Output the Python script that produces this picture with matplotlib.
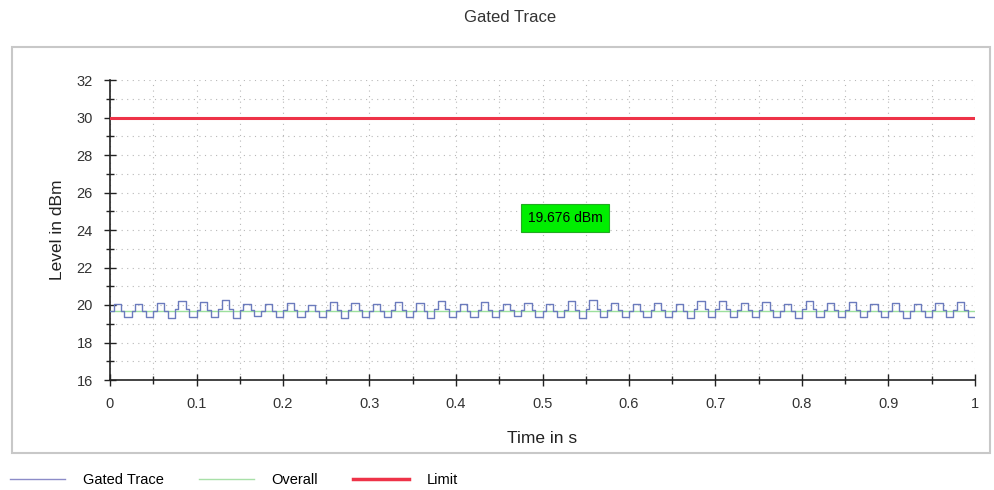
import numpy as np
import matplotlib
matplotlib.use('Agg')
from matplotlib import pyplot as plt
from matplotlib.patches import Rectangle
from matplotlib.lines import Line2D
from matplotlib.ticker import MultipleLocator

plt.rcParams['font.family'] = ['Liberation Sans', 'DejaVu Sans']

# per-cycle levels of the gated trace (dBm)
cycle_high = [20.05, 20.05, 20.1, 20.2, 20.15, 20.25, 20.05, 20.05, 20.1, 20.0,
              20.15, 20.1, 20.05, 20.15, 20.1, 20.2, 20.05, 20.15, 20.05, 20.1,
              20.05, 20.2, 20.25, 20.1, 20.05, 20.1, 20.05, 20.2, 20.2, 20.1,
              20.15, 20.05, 20.2, 20.1, 20.15, 20.05, 20.1, 20.05, 20.1, 20.15]
cycle_low = [19.35, 19.35, 19.3, 19.35, 19.35, 19.3, 19.4, 19.35, 19.35, 19.35,
             19.3, 19.35, 19.35, 19.35, 19.3, 19.35, 19.35, 19.35, 19.4, 19.35,
             19.35, 19.3, 19.35, 19.35, 19.35, 19.35, 19.3, 19.35, 19.35, 19.35,
             19.35, 19.3, 19.35, 19.35, 19.35, 19.35, 19.3, 19.35, 19.35, 19.35]
overall_level = 19.676
limit_level = 30.0
label_text = '19.676 dBm'
x_ticks = [0, 0.1, 0.2, 0.3, 0.4, 0.5, 0.6, 0.7, 0.8, 0.9, 1]
x_tick_labels = ['0', '0.1', '0.2', '0.3', '0.4', '0.5', '0.6', '0.7', '0.8', '0.9', '1']
y_ticks = [16, 18, 20, 22, 24, 26, 28, 30, 32]

# step shape inside each cycle: mid, high, high, mid, low, low
levels = []
for h, l in zip(cycle_high, cycle_low):
    m = (h + l) / 2
    levels += [m, h, h, m, l, l]
levels.append(levels[-1])
t = np.linspace(0, 1, len(levels))

fig = plt.figure(figsize=(9.94, 4.9), dpi=100)
fig.patch.set_facecolor('white')

# outer panel frame
fig.patches.append(Rectangle((12 / 994, 1 - 453 / 490), 978 / 994, 406 / 490,
                             transform=fig.transFigure, fill=False,
                             edgecolor='#c8c8c8', linewidth=1.5))
fig.text(510 / 994, 1 - 18 / 490, 'Gated Trace', ha='center', va='center',
         fontsize=12, color='#333333')

ax = fig.add_axes([110 / 994, 1 - 380 / 490, 865 / 994, 300 / 490])
ax.plot(t, levels, drawstyle='steps-post', color='#6b7bbd', linewidth=1, zorder=3)
ax.axhline(overall_level, color='#9de09d', linewidth=1, zorder=2)
ax.axhline(limit_level, color='#ee3348', linewidth=2.2, zorder=4)

ax.text(0.526, 24.62, label_text, ha='center', va='center', fontsize=10,
        color='black', zorder=5,
        bbox=dict(boxstyle='square,pad=0.5', facecolor='#00ee00',
                  edgecolor='#22aa22', linewidth=0.8))

ax.set_xlim(0, 1)
ax.set_ylim(16, 32)
ax.set_xticks(x_ticks)
ax.set_xticklabels(x_tick_labels)
ax.set_yticks(y_ticks)
ax.xaxis.set_minor_locator(MultipleLocator(0.05))
ax.yaxis.set_minor_locator(MultipleLocator(1))
ax.tick_params(which='major', direction='inout', length=9, width=1,
               color='#222222', labelsize=10.5, labelcolor='#333333', pad=8)
ax.tick_params(which='minor', direction='inout', length=6, width=1, color='#222222')
ax.grid(which='both', linestyle=(0, (1, 4)), color='#b8b8b8', linewidth=0.8)
for side in ['top', 'right']:
    ax.spines[side].set_visible(False)
for side in ['left', 'bottom']:
    ax.spines[side].set_color('#222222')
    ax.spines[side].set_linewidth(1.2)
ax.set_xlabel('Time in s', fontsize=12.5, color='#222222', labelpad=14)
ax.set_ylabel('Level in dBm', fontsize=12.5, color='#222222', labelpad=8)

handles = [
    Line2D([], [], color='#8c8cc8', linewidth=1),
    Line2D([], [], color='#a8e0a8', linewidth=1),
    Line2D([], [], color='#ee3348', linewidth=2.5),
]
fig.legend(handles, ['Gated Trace', 'Overall', 'Limit'], loc='center left',
           bbox_to_anchor=(10 / 994, 1 - 480 / 490), ncol=3, frameon=False,
           borderpad=0, borderaxespad=0, fontsize=10.5,
           handlelength=3.8, handletextpad=1.2, columnspacing=2.4)

fig.savefig('out.png', dpi=100, facecolor='white')
